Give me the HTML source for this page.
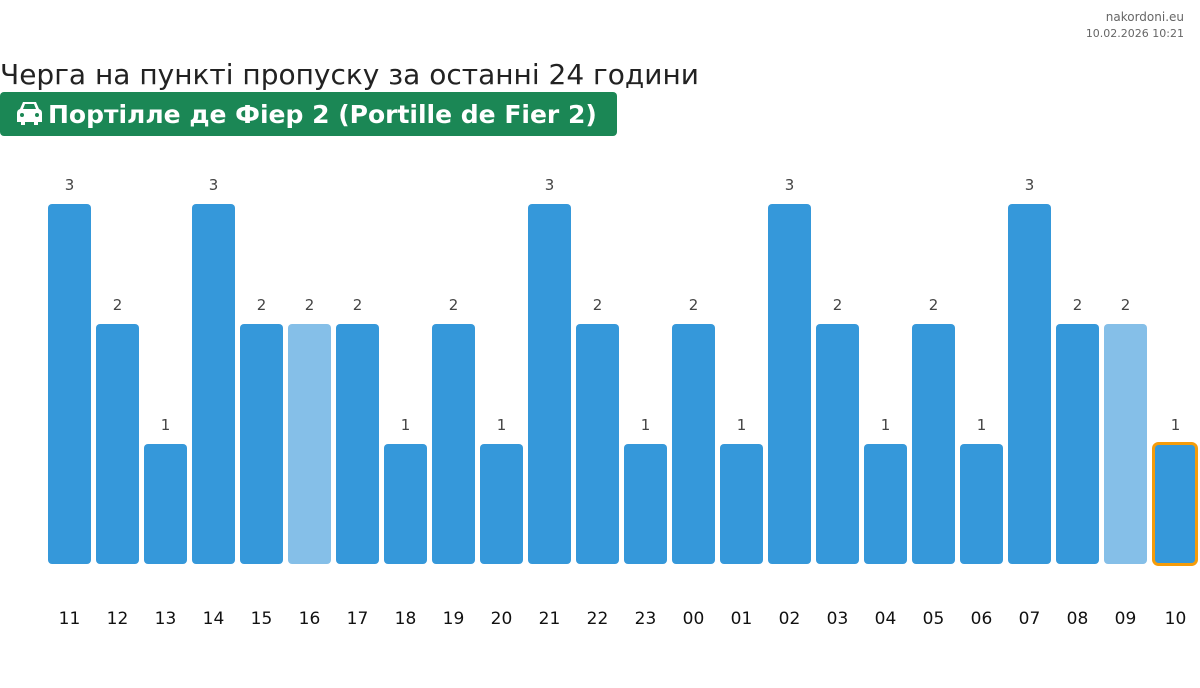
<!DOCTYPE html>
<html><head><meta charset="utf-8"><style>
body{margin:0;background:#fff;width:1200px;height:684px;overflow:hidden;font-family:"DejaVu Sans","Liberation Sans",sans-serif}
</style></head><body>
<svg width="1200" height="684" xmlns="http://www.w3.org/2000/svg" font-family="DejaVu Sans, Liberation Sans, sans-serif">
<text x="1184" y="21" text-anchor="end" font-size="12" fill="#666">nakordoni.eu</text>
<text x="1184" y="37" text-anchor="end" font-size="11" fill="#666">10.02.2026 10:21</text>
<text x="0" y="84" font-size="28" fill="#222">Черга на пункті пропуску за останні 24 години</text>
<rect x="0" y="92" width="617" height="44" rx="4" fill="#1b8755"/>
<g fill="#fff">
<path d="M20 109 L23 102 H36 L39 109 Q42 110 42 113 V122 H38 V125 H34 V122 H25 V125 H21 V122 H17 V113 Q17 110 20 109Z M23 109 H36 L34 104 H25Z"/>
<circle cx="22" cy="115" r="2" fill="#1b8755"/><circle cx="37" cy="115" r="2" fill="#1b8755"/>
</g>
<text x="48" y="123" font-size="25" font-weight="bold" fill="#fff">Портілле де Фіер 2 (Portille de Fier 2)</text>
<g id="bars"></g>
</svg>
<script>
var v=[3,2,1,3,2,2,2,1,2,1,3,2,1,2,1,3,2,1,2,1,3,2,2,1];
var l=["11","12","13","14","15","16","17","18","19","20","21","22","23","00","01","02","03","04","05","06","07","08","09","10"];
var light={5:1,22:1};var s="";
for(var i=0;i<24;i++){var x=48+48*i,ty=564-120*v[i],c=light[i]?"#85bfe8":"#3598da";
if(i==23){s+='<rect x="'+(x+1.5)+'" y="'+(ty-0.5)+'" width="43" height="'+(564-ty+1)+'" rx="5" fill="'+c+'" stroke="#f59c0a" stroke-width="3"/>';}
else s+='<rect x="'+x+'" y="'+ty+'" width="43" height="'+(564-ty)+'" rx="4" fill="'+c+'"/>';
s+='<text x="'+(x+21.5+(i==23?2:0))+'" y="'+(ty-14)+'" text-anchor="middle" font-size="15" fill="#444">'+v[i]+'</text>';
s+='<text x="'+(x+21.5+(i==23?2:0))+'" y="624" text-anchor="middle" font-size="17" fill="#111">'+l[i]+'</text>';}
document.getElementById("bars").innerHTML=s;
</script>
</body></html>
